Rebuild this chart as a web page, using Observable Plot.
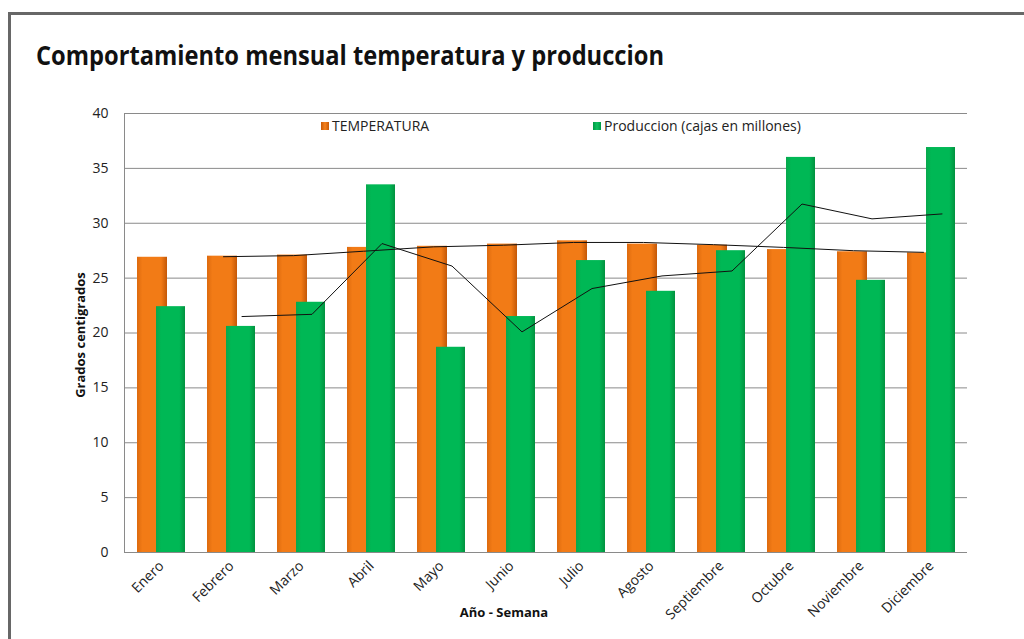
<!DOCTYPE html>
<html>
<head>
<meta charset="utf-8">
<script src="https://cdn.jsdelivr.net/npm/d3@7"></script>
<script src="https://cdn.jsdelivr.net/npm/@observablehq/plot@0.6"></script>
<style>
  body { margin: 0; background: #fff; }
  #wrap { position: relative; width: 1024px; height: 639px; overflow: hidden; font-family: "Open Sans", sans-serif; color: #222; }
  #frame { position: absolute; left: 8px; top: 12px; width: 1100px; height: 700px; border-left: 3px solid #676767; border-top: 3px solid #676767; box-sizing: border-box; }
  #chart { position: absolute; left: 0; top: 0; }
  #title { position: absolute; left: 36px; top: 37px; font-size: 26px; font-weight: bold; white-space: nowrap; transform-origin: left top; color: #111; }
  .leg { position: absolute; top: 116px; font-size: 14px; white-space: nowrap; color: #222; }
  .sw { position: absolute; top: 122px; width: 8px; height: 8px; }
  #ylab { position: absolute; left: 80px; top: 335px; transform: translate(-50%, -50%) rotate(-90deg); font-size: 13px; font-weight: bold; white-space: nowrap; color: #111; }
  #xlab { position: absolute; left: 504px; top: 603px; transform: translateX(-50%); font-size: 13px; font-weight: bold; white-space: nowrap; color: #111; }
</style>
</head>
<body>
<div id="wrap">
  <div id="frame"></div>
  <div id="chart"></div>
  <div id="title">Comportamiento mensual temperatura y produccion</div>
  <div class="sw" style="left:321px;background:linear-gradient(90deg,#c85a08,#f5821e,#c85a08);"></div>
  <div class="leg" style="left:332px;">TEMPERATURA</div>
  <div class="sw" style="left:593px;background:linear-gradient(90deg,#009a44,#10c060,#009a44);"></div>
  <div class="leg" style="left:604px;">Produccion (cajas en millones)</div>
  <div id="ylab">Grados centigrados</div>
  <div id="xlab">Año - Semana</div>
</div>
<script>
const meses = ["Enero","Febrero","Marzo","Abril","Mayo","Junio","Julio","Agosto","Septiembre","Octubre","Noviembre","Diciembre"];
const temperatura = [26.9, 27.0, 27.1, 27.8, 27.9, 28.1, 28.4, 28.1, 28.0, 27.6, 27.4, 27.3];
const produccion  = [22.4, 20.6, 22.8, 33.5, 18.7, 21.5, 26.6, 23.8, 27.5, 36.0, 24.8, 36.9];
const yTicks = [0, 5, 10, 15, 20, 25, 30, 35, 40];

const data = meses.map((mes, i) => ({mes, temperatura: temperatura[i], produccion: produccion[i]}));

// two-period moving average (Excel trendline), computed by Plot's window transform
const pairMean = (values) => values.length < 2 ? NaN : d3.mean(values);

const chart = Plot.plot({
  width: 1024,
  height: 639,
  marginLeft: 124,
  marginRight: 57,
  marginTop: 113,
  marginBottom: 87,
  style: {fontFamily: "Open Sans, sans-serif", fontSize: "13px", color: "#222", background: "transparent"},
  x: {domain: meses, paddingInner: 0.317, paddingOuter: 0.1585, label: null},
  y: {domain: [0, 40], label: null},
  marks: [
    Plot.gridY(yTicks, {stroke: "#8a8a8a", strokeOpacity: 1}),
    Plot.barY(data, {x: "mes", y: "temperatura", fill: "url(#gradT)", insetRight: 18}),
    Plot.barY(data, {x: "mes", y: "produccion", fill: "url(#gradP)", insetLeft: 19}),
    Plot.lineY(data, Plot.windowY({k: 2, anchor: "end", reduce: pairMean}, {x: "mes", y: "temperatura", stroke: "#111", strokeWidth: 1, dx: -8})),
    Plot.lineY(data, Plot.windowY({k: 2, anchor: "end", reduce: pairMean}, {x: "mes", y: "produccion", stroke: "#111", strokeWidth: 1, dx: 10.5})),
    Plot.ruleY([0], {stroke: "#8a8a8a"}),
    Plot.axisY(yTicks, {tickSize: 0, tickPadding: 16, fontSize: 14, label: null}),
    Plot.axisX({tickSize: 0, tickRotate: -45, tickPadding: 11, fontSize: 14, label: null})
  ]
});
document.getElementById("chart").appendChild(chart);

// bar gradients and left axis line
const svg = d3.select(chart);
const defs = svg.insert("defs", ":first-child");
function grad(id, edgeL, mid, edgeR) {
  const g = defs.append("linearGradient").attr("id", id).attr("x1", "0").attr("x2", "1").attr("y1", "0").attr("y2", "0");
  g.append("stop").attr("offset", "0%").attr("stop-color", edgeL);
  g.append("stop").attr("offset", "18%").attr("stop-color", mid);
  g.append("stop").attr("offset", "80%").attr("stop-color", mid);
  g.append("stop").attr("offset", "100%").attr("stop-color", edgeR);
}
grad("gradT", "#dd6a0e", "#f27b16", "#c45808");
grad("gradP", "#07a84c", "#00b855", "#02923f");
svg.append("line").attr("x1", 124.5).attr("x2", 124.5).attr("y1", 113).attr("y2", 552).attr("stroke", "#8a8a8a");

// fit title to reference width
const t = document.getElementById("title");
const w = t.getBoundingClientRect().width;
t.style.transform = `scaleX(${628 / w})`;
</script>
</body>
</html>
